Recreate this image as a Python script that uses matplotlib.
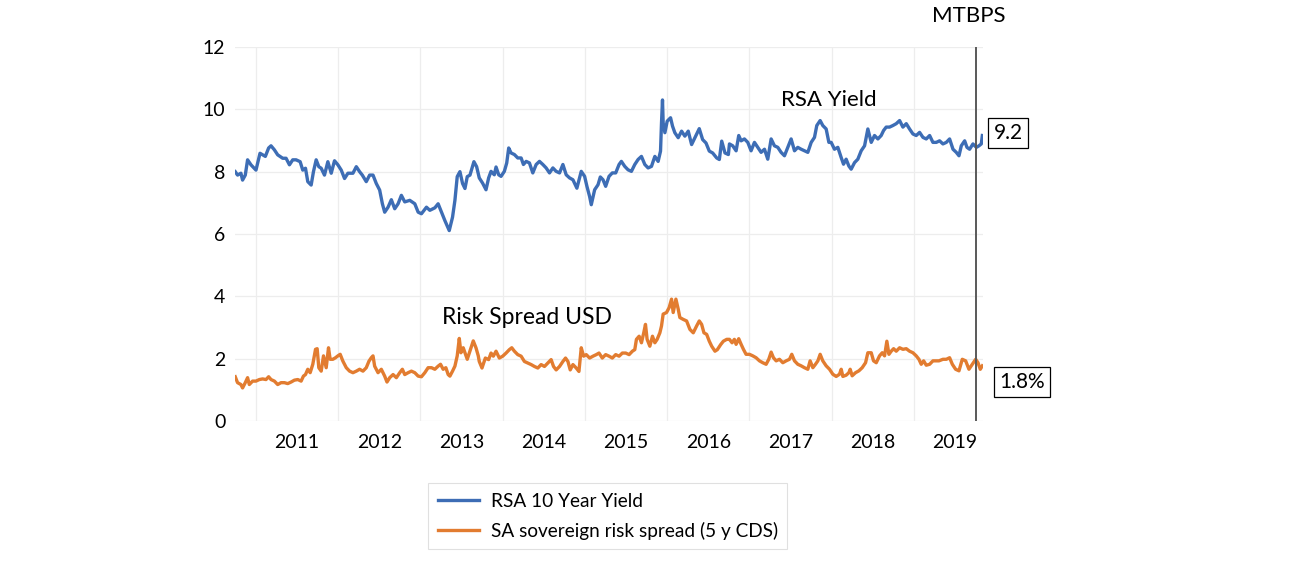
import matplotlib
matplotlib.use("Agg")
import matplotlib.pyplot as plt
from matplotlib.ticker import FixedLocator, NullFormatter, FixedFormatter

# ---------------- data (decimal years) ----------------
yield_dates = [
    2010.748, 2010.776, 2010.817, 2010.837, 2010.870, 2010.898, 2010.939, 2011.000, 2011.049, 2011.081,
    2011.114, 2011.154, 2011.183, 2011.224, 2011.264, 2011.325, 2011.366, 2011.407, 2011.447, 2011.488,
    2011.537, 2011.569, 2011.602, 2011.630, 2011.671, 2011.699, 2011.732, 2011.764, 2011.793, 2011.833,
    2011.874, 2011.915, 2011.955, 2011.996, 2012.037, 2012.077, 2012.118, 2012.179, 2012.220, 2012.260,
    2012.293, 2012.341, 2012.382, 2012.423, 2012.463, 2012.504, 2012.537, 2012.565, 2012.606, 2012.646,
    2012.687, 2012.728, 2012.768, 2012.809, 2012.870, 2012.931, 2012.972, 2013.012, 2013.073, 2013.114,
    2013.175, 2013.215, 2013.256, 2013.297, 2013.350, 2013.390, 2013.419, 2013.447, 2013.480, 2013.512,
    2013.541, 2013.569, 2013.602, 2013.650, 2013.683,
    2013.715, 2013.756, 2013.797, 2013.829, 2013.858, 2013.898, 2013.919, 2013.951, 2013.980, 2014.020,
    2014.049, 2014.073, 2014.102, 2014.142, 2014.183, 2014.224, 2014.252, 2014.285, 2014.325, 2014.366,
    2014.407, 2014.447, 2014.488, 2014.528, 2014.569, 2014.610, 2014.650, 2014.691, 2014.732, 2014.772,
    2014.813, 2014.854, 2014.902, 2014.955, 2014.996, 2015.024, 2015.057, 2015.077, 2015.118, 2015.159,
    2015.187, 2015.220, 2015.252, 2015.293, 2015.333, 2015.374, 2015.415, 2015.443, 2015.484, 2015.524,
    2015.565, 2015.606, 2015.646, 2015.687, 2015.728, 2015.768, 2015.809, 2015.850, 2015.890, 2015.919,
    2015.931, 2015.943, 2015.951, 2015.972, 2016.000, 2016.041, 2016.065, 2016.093, 2016.134, 2016.175,
    2016.215, 2016.256, 2016.297, 2016.337, 2016.390, 2016.431, 2016.472, 2016.512, 2016.553, 2016.602,
    2016.634, 2016.663, 2016.703, 2016.744,
    2016.757, 2016.797, 2016.838, 2016.870, 2016.899, 2016.939, 2016.980, 2017.020, 2017.061, 2017.101,
    2017.142, 2017.183, 2017.223, 2017.264, 2017.304, 2017.345, 2017.385, 2017.426, 2017.467, 2017.507,
    2017.548, 2017.588, 2017.629, 2017.669, 2017.710, 2017.751, 2017.791, 2017.819, 2017.860, 2017.892,
    2017.933, 2017.966, 2017.994, 2018.034, 2018.075, 2018.116, 2018.144, 2018.176, 2018.209, 2018.237,
    2018.278, 2018.318, 2018.359, 2018.400, 2018.440, 2018.481, 2018.521, 2018.562, 2018.602, 2018.631,
    2018.663, 2018.704, 2018.744, 2018.785, 2018.826, 2018.866, 2018.907, 2018.947, 2018.988, 2019.028,
    2019.069, 2019.110, 2019.150, 2019.191, 2019.231, 2019.272, 2019.312, 2019.353, 2019.394, 2019.434,
    2019.475, 2019.515, 2019.548, 2019.576, 2019.617, 2019.645, 2019.677, 2019.718, 2019.759, 2019.791,
    2019.819, 2019.832,
]
yield_values = [
    8.00, 7.89, 7.95, 7.73, 7.89, 8.38, 8.22, 8.05, 8.59, 8.54,
    8.49, 8.76, 8.83, 8.70, 8.54, 8.43, 8.43, 8.22, 8.38, 8.38,
    8.32, 8.05, 8.11, 7.68, 7.57, 8.00, 8.38, 8.16, 8.11, 7.89,
    8.32, 7.95, 8.35, 8.22, 8.05, 7.78, 7.95, 7.95, 8.16, 8.00,
    7.89, 7.68, 7.89, 7.89, 7.62, 7.41, 6.97, 6.70, 6.86, 7.10,
    6.81, 6.97, 7.24, 7.03, 7.08, 6.97, 6.70, 6.65, 6.86, 6.76,
    6.84, 6.97, 6.70, 6.43, 6.11, 6.54, 7.08, 7.84, 8.00, 7.62,
    7.46, 7.84, 7.89, 8.32, 8.16,
    7.80, 7.63, 7.42, 7.80, 8.01, 7.90, 8.15, 7.90, 7.85, 8.01,
    8.28, 8.76, 8.60, 8.55, 8.44, 8.44, 8.23, 8.33, 8.28, 7.96,
    8.23, 8.33, 8.23, 8.12, 7.96, 8.12, 8.01, 7.96, 8.23, 7.90,
    7.80, 7.74, 7.47, 8.01, 7.85, 7.53, 7.20, 6.94, 7.42, 7.58,
    7.83, 7.74, 7.53, 7.85, 7.96, 7.96, 8.23, 8.33, 8.17, 8.06,
    8.01, 8.23, 8.39, 8.49, 8.23, 8.12, 8.17, 8.49, 8.33, 8.66,
    9.57, 10.30, 9.57, 9.25, 9.62, 9.73, 9.46, 9.25, 9.09, 9.30,
    9.14, 9.30, 8.87, 9.09, 9.38, 9.03, 8.92, 8.66, 8.60, 8.44,
    8.39, 8.98, 8.60, 8.55,
    8.89, 8.83, 8.67, 9.16, 8.99, 9.05, 8.94, 8.67, 8.94, 8.78,
    8.62, 8.72, 8.40, 9.05, 8.83, 8.78, 8.62, 8.51, 8.78, 9.05,
    8.67, 8.78, 8.72, 8.67, 8.62, 8.94, 9.10, 9.48, 9.64, 9.48,
    9.37, 8.94, 8.94, 8.72, 8.78, 8.45, 8.24, 8.40, 8.18, 8.08,
    8.29, 8.40, 8.67, 8.83, 9.37, 8.94, 9.16, 9.05, 9.16, 9.32,
    9.43, 9.43, 9.48, 9.54, 9.64, 9.43, 9.54, 9.37, 9.21, 9.16,
    9.26, 9.10, 9.05, 9.16, 8.94, 8.94, 8.99, 8.89, 8.94, 9.05,
    8.72, 8.62, 8.51, 8.83, 8.99, 8.78, 8.72, 8.89, 8.78, 8.83,
    8.89, 9.16,
]

spread_dates = [
    2010.748, 2010.776, 2010.817, 2010.837, 2010.870, 2010.898, 2010.919, 2010.959, 2011.000, 2011.041,
    2011.081, 2011.122, 2011.154, 2011.183, 2011.224, 2011.264, 2011.305, 2011.346, 2011.386, 2011.427,
    2011.467, 2011.508, 2011.549, 2011.577, 2011.602, 2011.630, 2011.659, 2011.691, 2011.724, 2011.744,
    2011.764, 2011.793, 2011.821, 2011.854, 2011.882, 2011.902, 2011.935, 2011.967, 2011.996, 2012.024,
    2012.057, 2012.098, 2012.138, 2012.179, 2012.220, 2012.260, 2012.301, 2012.341, 2012.374, 2012.402,
    2012.423, 2012.443, 2012.484, 2012.524, 2012.565, 2012.593, 2012.626, 2012.667, 2012.707, 2012.748,
    2012.780, 2012.809, 2012.850, 2012.890, 2012.931, 2012.972, 2013.012, 2013.053, 2013.093, 2013.134,
    2013.175, 2013.215, 2013.244, 2013.276, 2013.309, 2013.337, 2013.358, 2013.390, 2013.419, 2013.447,
    2013.472, 2013.492, 2013.520, 2013.541, 2013.569, 2013.602, 2013.642, 2013.675, 2013.703,
    2013.715, 2013.748, 2013.789, 2013.829, 2013.858, 2013.886, 2013.919, 2013.959, 2014.000, 2014.041,
    2014.081, 2014.110, 2014.142, 2014.183, 2014.224, 2014.264, 2014.305, 2014.346, 2014.386, 2014.427,
    2014.467, 2014.508, 2014.549, 2014.589, 2014.618, 2014.650, 2014.691, 2014.732, 2014.764, 2014.793,
    2014.821, 2014.854, 2014.894, 2014.927, 2014.955, 2014.984, 2015.016, 2015.057, 2015.098, 2015.138,
    2015.171, 2015.211, 2015.252, 2015.293, 2015.333, 2015.374, 2015.415, 2015.455, 2015.496, 2015.537,
    2015.577, 2015.606, 2015.626, 2015.659, 2015.687, 2015.715, 2015.736, 2015.756, 2015.789, 2015.821,
    2015.850, 2015.878, 2015.911, 2015.931, 2015.951, 2015.992, 2016.024, 2016.053, 2016.073, 2016.106,
    2016.134, 2016.154, 2016.195, 2016.236, 2016.276, 2016.317, 2016.358, 2016.390, 2016.419, 2016.447,
    2016.480, 2016.512, 2016.541, 2016.581, 2016.610, 2016.650, 2016.683, 2016.724,
    2016.757, 2016.789, 2016.817, 2016.838, 2016.870, 2016.899, 2016.927, 2016.959, 2017.000, 2017.041,
    2017.081, 2017.122, 2017.162, 2017.203, 2017.235, 2017.264, 2017.292, 2017.325, 2017.365, 2017.406,
    2017.446, 2017.487, 2017.515, 2017.548, 2017.588, 2017.629, 2017.669, 2017.710, 2017.738, 2017.771,
    2017.803, 2017.832, 2017.860, 2017.892, 2017.933, 2017.974, 2018.014, 2018.055, 2018.095, 2018.116,
    2018.136, 2018.176, 2018.209, 2018.225, 2018.249, 2018.290, 2018.331, 2018.371, 2018.412, 2018.440,
    2018.481, 2018.509, 2018.542, 2018.582, 2018.615, 2018.643, 2018.671, 2018.696, 2018.724, 2018.753,
    2018.785, 2018.826, 2018.866, 2018.907, 2018.947, 2018.988, 2019.028, 2019.061, 2019.089, 2019.118,
    2019.150, 2019.191, 2019.231, 2019.264, 2019.304, 2019.353, 2019.394, 2019.434, 2019.467, 2019.507,
    2019.548, 2019.588, 2019.629, 2019.669, 2019.710, 2019.751, 2019.779, 2019.807, 2019.832,
]
spread_values = [
    1.42, 1.23, 1.17, 1.06, 1.23, 1.39, 1.17, 1.28, 1.28, 1.33,
    1.35, 1.33, 1.42, 1.33, 1.28, 1.17, 1.23, 1.23, 1.20, 1.25,
    1.31, 1.33, 1.28, 1.44, 1.49, 1.66, 1.55, 1.82, 2.30, 2.32,
    1.71, 1.60, 2.09, 1.71, 2.35, 1.98, 1.98, 2.03, 2.09, 2.14,
    1.92, 1.71, 1.60, 1.55, 1.60, 1.66, 1.60, 1.71, 1.92, 2.03,
    2.09, 1.76, 1.55, 1.66, 1.44, 1.25, 1.39, 1.49, 1.39, 1.55,
    1.66, 1.49, 1.55, 1.60, 1.55, 1.44, 1.42, 1.55, 1.71, 1.71,
    1.66, 1.76, 1.82, 1.66, 1.71, 1.49, 1.44, 1.60, 1.76, 2.09,
    2.65, 2.19, 2.35, 2.19, 1.98, 2.25, 2.57, 2.35, 2.09,
    1.91, 1.70, 2.02, 1.97, 2.18, 2.08, 2.24, 2.02, 2.08, 2.18,
    2.29, 2.35, 2.24, 2.13, 2.08, 1.91, 1.86, 1.81, 1.75, 1.70,
    1.81, 1.75, 1.86, 1.97, 1.75, 1.64, 1.75, 1.91, 2.02, 1.91,
    1.64, 1.81, 1.70, 1.59, 2.35, 2.08, 2.13, 2.02, 2.08, 2.13,
    2.18, 2.02, 2.13, 2.08, 2.02, 2.13, 2.08, 2.18, 2.18, 2.13,
    2.24, 2.29, 2.62, 2.72, 2.51, 2.83, 3.10, 2.62, 2.40, 2.72,
    2.51, 2.62, 2.83, 3.05, 3.43, 3.48, 3.64, 3.91, 3.48, 3.91,
    3.59, 3.32, 3.26, 3.21, 2.94, 2.83, 3.05, 3.21, 3.10, 2.83,
    2.78, 2.56, 2.40, 2.24, 2.29, 2.45, 2.56, 2.62,
    2.62, 2.51, 2.62, 2.46, 2.64, 2.46, 2.30, 2.14, 2.14, 2.09,
    2.03, 1.93, 1.87, 1.82, 1.98, 2.21, 2.03, 1.93, 1.98, 1.87,
    1.93, 1.98, 2.14, 1.93, 1.82, 1.77, 1.71, 1.66, 1.93, 1.71,
    1.82, 1.93, 2.14, 1.93, 1.77, 1.66, 1.50, 1.43, 1.50, 1.66,
    1.43, 1.47, 1.55, 1.66, 1.45, 1.55, 1.61, 1.71, 1.87, 2.19,
    2.19, 1.93, 1.87, 2.09, 2.19, 2.09, 2.56, 2.14, 2.24, 2.32,
    2.24, 2.35, 2.30, 2.32, 2.24, 2.19, 2.09, 1.98, 1.82, 1.93,
    1.79, 1.82, 1.93, 1.93, 1.93, 1.98, 1.98, 2.03, 1.82, 1.66,
    1.61, 1.98, 1.93, 1.66, 1.82, 1.98, 1.87, 1.66, 1.77,
]

years = [2011, 2012, 2013, 2014, 2015, 2016, 2017, 2018, 2019]
year_labels = [str(y) for y in years]
y_ticks = [0, 2, 4, 6, 8, 10, 12]
mtbps_date = 2019.75
latest_yield_label = "9.2"
latest_spread_label = "1.8%"
series_names = ["RSA 10 Year Yield", "SA sovereign risk spread (5 y CDS)"]

# ---------------- styling ----------------
plt.rcParams['font.family'] = ['Lato', 'DejaVu Sans']
BLUE = '#3d6db5'
ORANGE = '#e27c30'
W, H = 1312, 569

fig = plt.figure(figsize=(W / 100, H / 100), dpi=100)
ax = fig.add_axes([235 / W, 1 - 421 / H, (983 - 235) / W, (421 - 47) / H])

l1, = ax.plot(yield_dates, yield_values, color=BLUE, lw=2.4, solid_joinstyle='round')
l2, = ax.plot(spread_dates, spread_values, color=ORANGE, lw=2.4, solid_joinstyle='round')

ax.set_xlim(2010.745, 2019.84)
ax.set_ylim(0, 12)
ax.set_yticks(y_ticks)
ax.set_yticklabels([str(t) for t in y_ticks])

ax.xaxis.set_major_locator(FixedLocator(years + [2020]))
ax.xaxis.set_major_formatter(NullFormatter())
ax.xaxis.set_minor_locator(FixedLocator([y + 0.5 for y in years]))
ax.xaxis.set_minor_formatter(FixedFormatter(year_labels))

ax.tick_params(axis='x', which='both', length=0, labelsize=14, pad=9)
ax.tick_params(axis='y', length=0, labelsize=14, pad=7)
for s in ax.spines.values():
    s.set_visible(False)
ax.grid(True, which='major', axis='both', color='#ededed', lw=0.9)
ax.set_axisbelow(True)

ax.axvline(mtbps_date, color='#595959', lw=1.4, zorder=3)

fig.text(969 / W, 1 - 16 / H, "MTBPS", fontsize=16, ha='center', va='center')
fig.text(829 / W, 1 - 100 / H, "RSA Yield", fontsize=16, ha='center', va='center')
fig.text(527 / W, 1 - 317 / H, "Risk Spread USD", fontsize=16.5, ha='center', va='center')

box = dict(boxstyle='square,pad=0.25', fc='white', ec='black', lw=0.9)
fig.text(1008 / W, 1 - 133 / H, latest_yield_label, fontsize=15, ha='center', va='center', bbox=box)
fig.text(1022 / W, 1 - 382 / H, latest_spread_label, fontsize=15, ha='center', va='center', bbox=box)

leg = fig.legend([l1, l2], series_names, loc='upper left',
                 bbox_to_anchor=(428 / W, 1 - 483 / H), fontsize=13.7,
                 frameon=True, fancybox=False, edgecolor='#d9d9d9',
                 borderpad=0.5, labelspacing=0.65, handlelength=2.2,
                 handletextpad=0.6, borderaxespad=0)
leg.get_frame().set_linewidth(0.8)

fig.savefig('out.png', dpi=100)
